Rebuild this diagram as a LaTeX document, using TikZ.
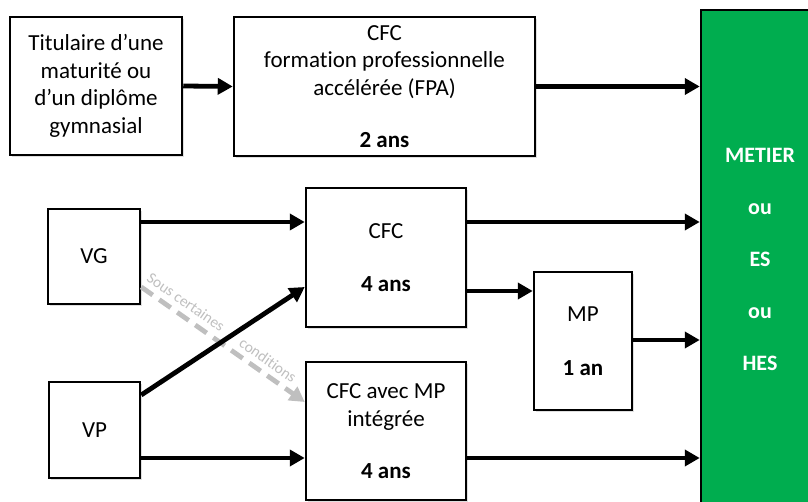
\documentclass[tikz,border=0pt]{standalone}
\usepackage{fontspec}
\setmainfont{Carlito}[Ligatures=NoCommon]
\usetikzlibrary{arrows.meta,shadows,calc}
\definecolor{vert}{HTML}{00AD4F}
\definecolor{gristrait}{HTML}{BFBFBF}
\begin{document}
\begin{tikzpicture}[x=1pt,y=-1pt,
  box/.style={draw=black, line width=2.5pt, fill=white, align=center, inner sep=0pt,
    font=\fontsize{23}{27.5}\selectfont,
    drop shadow={shadow xshift=2pt, shadow yshift=-2pt, opacity=0.25}},
  greenbox/.style={draw=black, line width=2.5pt, fill=vert, text=white, align=center, inner sep=0pt,
    font=\fontsize{22}{52}\selectfont\bfseries},
  arr/.style={line width=4.8pt, -{Triangle[length=15pt,width=16pt]}},
  grayarr/.style={line width=4.8pt, draw=gristrait, dash pattern=on 14pt off 8pt,
    -{Triangle[length=15pt,width=16pt,fill=gristrait]}},
  lab/.style={text=gristrait, font=\fontsize{15.5}{17}\selectfont, inner sep=0pt}
]
\useasboundingbox (0,0) rectangle (808,502);

\node[greenbox, minimum width=118pt, minimum height=499pt] (green) at (760,259.5)
  {METIER\\ou\\ES\\ou\\HES};

\node[box, minimum width=172pt, minimum height=138pt] (tit) at (96,86)
  {Titulaire d’une\\maturité ou\\d’un diplôme\\gymnasial};
\node[box, minimum width=301pt, minimum height=139pt] (fpa) at (384.5,86.5)
  {CFC\\formation professionnelle\\accélérée (FPA)\\[24.5pt]\textbf{2 ans}};
\node[box, minimum width=92pt, minimum height=95pt] (vg) at (94,256.5) {VG};
\node[box, minimum width=91pt, minimum height=96pt] (vp) at (94.5,430) {VP};
\node[box, minimum width=160pt, minimum height=139pt] (cfc) at (386,257.5)
  {CFC\\[25pt]\textbf{4 ans}};
\node[box, minimum width=160pt, minimum height=138pt] (cfcmp) at (386,431)
  {CFC avec MP\\intégrée\\[24.5pt]\textbf{4 ans}};
\node[box, minimum width=98pt, minimum height=138pt] (mp) at (583,341)
  {MP\\[26pt]\textbf{1 an}};

\draw[arr] (tit.east) -- (fpa.west);
\draw[arr] (fpa.east) -- (fpa.east -| green.west);
\draw[arr] (vg.east |- 0,222) -- (cfc.west |- 0,222);
\draw[arr] (cfc.east |- 0,222) -- (green.west |- 0,222);
\draw[arr] (cfc.east |- 0,291) -- (mp.west |- 0,291);
\draw[arr] (mp.east |- 0,340) -- (green.west |- 0,340);
\draw[arr] (vp.east |- 0,458) -- (cfcmp.west |- 0,458);
\draw[arr] (cfcmp.east |- 0,458) -- (green.west |- 0,458);

\draw[grayarr] (vg.east |- 0,287) -- (cfcmp.west |- 0,402);
\draw[arr] (vp.east |- 0,395) -- (cfc.west |- 0,287);

\node[lab, rotate=-35] (l1) at (186,302) {Sous certaines};
\node[lab, rotate=-35] (l2) at (268,360) {conditions};
\end{tikzpicture}
\end{document}
